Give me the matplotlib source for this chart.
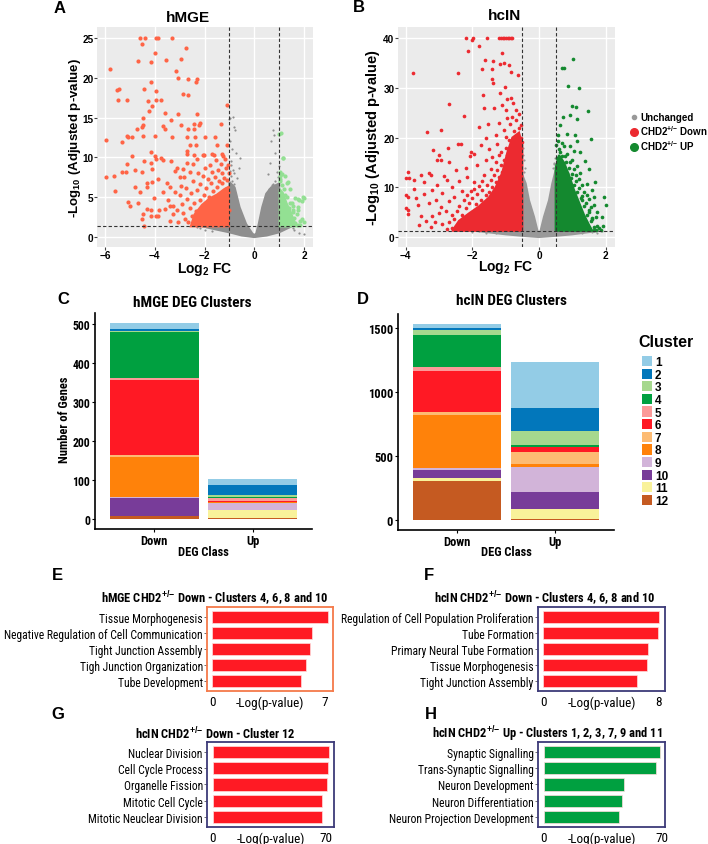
import numpy as np
import matplotlib
matplotlib.use('Agg')
import matplotlib.pyplot as plt
from matplotlib import font_manager
from matplotlib.patches import Patch
from matplotlib.lines import Line2D

SANS = 'Liberation Sans'
names = {f.name for f in font_manager.fontManager.ttflist}
NARROW = SANS
for cand in ['Liberation Sans Narrow', 'Arial Narrow', 'Roboto Condensed', 'Archivo Narrow', 'PT Sans Narrow']:
    if cand in names:
        NARROW = cand
        break

plt.rcParams['font.family'] = [SANS, 'DejaVu Sans']
plt.rcParams['mathtext.fontset'] = 'custom'
plt.rcParams['mathtext.bf'] = SANS + ':bold'
plt.rcParams['mathtext.rm'] = SANS
plt.rcParams['mathtext.default'] = 'bf'

# ---------------- volcano data ----------------
# hMGE: dense clouds as outlines, sparse genes as points
mge_gray_cloud = [(-1.0, 6.9), (-0.79, 6.2), (-0.59, 3.7), (-0.33, 1.6), (-0.08, 0.4), (0.0, 0.2),
                  (0.08, 0.4), (0.18, 1.6), (0.32, 3.7), (0.48, 5.4), (0.68, 6.2), (1.0, 6.7),
                  (1.0, 1.3), (1.5, 1.3), (1.0, 0.55), (0.5, 0.15), (0.0, -0.05), (-0.5, 0.15),
                  (-1.0, 0.55), (-1.6, 0.95), (-2.1, 1.3), (-1.0, 1.3)]
mge_gray_pts = [(-0.98, 15.0), (-0.86, 15.1), (-1.0, 14.8), (-0.81, 13.8), (-0.79, 13.4), (-0.98, 12.0),
                (-0.9, 11.0), (-0.72, 10.5), (-0.59, 9.9), (-0.95, 9.5), (-0.6, 8.6), (-0.85, 8.4),
                (-0.8, 8.0), (-0.7, 7.4), (-0.95, 7.6), (-0.88, 7.0), (-0.82, 6.6), (-0.98, 8.3),
                (-0.92, 9.0), (0.75, 13.4), (0.8, 12.8), (0.68, 12.0), (0.62, 9.3), (0.55, 7.9),
                (0.75, 6.6), (0.85, 7.0), (0.95, 7.5), (0.9, 8.2), (0.98, 8.9), (0.7, 6.5), (0.6, 6.0),
                (0.82, 10.5), (1.6, 0.8), (1.8, 0.5), (1.99, 0.3), (1.55, 1.1), (-2.2, 1.1), (-2.0, 0.9),
                (-1.8, 1.2), (-1.7, 0.7), (-2.3, 1.2)]
mge_down_cloud = [(-1.02, 1.3), (-1.02, 6.3), (-1.2, 6.0), (-1.5, 5.3), (-1.8, 4.8), (-2.1, 4.0),
                  (-2.4, 2.8), (-2.55, 1.3)]
mge_down_pts = [(-4.59, 25), (-4.39, 25), (-3.95, 25), (-3.86, 25), (-3.32, 25), (-4.53, 24.2), (-2.75, 23.7),
                (-3.97, 23.1), (-2.95, 22.4), (-3.56, 22.2), (-4.66, 22.1), (-4.13, 22.0), (-5.81, 21.1),
                (-3.15, 20.9), (-3.08, 20.0), (-2.68, 19.8), (-2.31, 19.8), (-4.16, 19.5), (-2.36, 19.5),
                (-5.53, 18.5), (-5.45, 18.6), (-4.43, 18.6), (-3.93, 18.3), (-2.85, 18.0), (-2.68, 17.9),
                (-5.46, 17.2), (-5.13, 17.2), (-4.29, 17.1), (-3.95, 17.2), (-3.75, 17.2), (-1.11, 16.6),
                (-4.09, 16.4), (-4.23, 15.8), (-3.59, 15.6), (-3.08, 15.5), (-2.29, 15.4), (-4.49, 14.9),
                (-3.36, 14.7), (-2.44, 14.2), (-2.22, 14.1), (-2.18, 14.3), (-1.34, 14.2), (-4.49, 14.0),
                (-4.53, 13.8), (-3.66, 13.9), (-3.59, 13.6), (-4.73, 13.5), (-2.95, 14.0), (-2.68, 13.5),
                (-2.44, 13.5), (-5.96, 12.2), (-5.33, 11.9), (-5.13, 12.7), (-5.06, 12.6), (-4.93, 12.6),
                (-4.46, 12.7), (-3.99, 12.7), (-3.32, 12.5), (-2.72, 12.6), (-2.37, 12.6), (-1.96, 12.6),
                (-1.58, 12.5), (-1.51, 11.6), (-1.11, 11.6), (-2.57, 11.6), (-2.33, 11.6), (-4.90, 10.2),
                (-4.17, 10.6), (-3.99, 10.2), (-3.75, 9.9), (-2.72, 10.8), (-2.69, 10.4), (-2.41, 10.3),
                (-2.05, 10.3), (-2.01, 10.3), (-1.60, 10.3), (-1.30, 10.4), (-5.13, 9.2), (-5.16, 8.1),
                (-4.43, 9.5), (-4.17, 9.3), (-3.95, 9.8), (-3.66, 9.6), (-3.35, 9.5), (-5.33, 8.1),
                (-4.79, 8.4), (-4.53, 8.1), (-4.09, 8.5), (-5.96, 7.5), (-5.64, 7.6), (-4.33, 6.8),
                (-4.09, 6.9), (-3.86, 7.3), (-3.52, 6.8), (-3.19, 8.3), (-3.12, 8.7), (-2.88, 8.5),
                (-2.72, 9.3), (-2.45, 9.1), (-2.99, 7.5), (-2.81, 7.5), (-4.79, 6.3), (-4.59, 5.6),
                (-4.33, 6.2), (-4.03, 4.9), (-3.66, 5.6), (-3.39, 6.3), (-5.60, 5.8), (-5.06, 4.4),
                (-4.99, 3.8), (-4.66, 4.2), (-4.33, 3.5), (-4.13, 3.4), (-3.93, 2.6), (-3.82, 3.4),
                (-3.48, 4.6), (-3.28, 3.9), (-4.46, 2.8), (-4.53, 2.2), (-4.43, 1.4), (-4.13, 2.6),
                (-3.86, 2.6), (-3.59, 3.5), (-3.39, 3.8), (-3.26, 2.9),
                (-3.0, 5.2), (-2.9, 4.1), (-2.85, 3.0), (-2.8, 2.2), (-2.75, 6.1), (-2.7, 4.7), (-2.65, 1.8),
                (-2.6, 3.6), (-2.55, 5.5), (-2.5, 2.6), (-2.45, 7.0), (-2.42, 4.2), (-2.38, 1.6), (-2.35, 3.2),
                (-2.3, 5.9), (-2.28, 8.0), (-2.25, 2.3), (-2.2, 4.6), (-2.18, 6.6), (-2.15, 3.5), (-2.1, 1.9),
                (-2.05, 7.6), (-2.02, 5.2), (-2.0, 8.6), (-1.98, 2.7), (-1.95, 4.3), (-1.92, 6.1), (-1.88, 3.4),
                (-1.85, 7.2), (-1.8, 5.0), (-1.78, 9.0), (-1.75, 2.1), (-1.72, 6.7), (-1.7, 4.0), (-1.68, 8.2),
                (-1.65, 5.7), (-1.6, 3.1), (-1.58, 7.5), (-1.55, 9.6), (-1.5, 6.3), (-1.48, 4.5), (-1.45, 8.4),
                (-1.42, 2.5), (-1.4, 7.0), (-1.38, 5.3), (-1.35, 9.2), (-1.32, 3.7), (-1.3, 6.8), (-1.28, 8.0),
                (-1.25, 4.9), (-1.22, 7.4), (-1.2, 2.9), (-1.18, 9.8), (-1.15, 6.0), (-1.12, 8.6), (-1.1, 4.2),
                (-1.08, 7.1), (-1.05, 5.6), (-1.03, 8.0), (-1.02, 3.3), (-1.25, 10.2), (-1.05, 9.0),
                (-1.7, 10.4), (-3.1, 3.3), (-3.05, 1.8), (-2.95, 6.4), (-3.2, 5.6), (-3.4, 2.0), (-2.6, 8.1),
                (-2.3, 9.8)]
mge_up_cloud = [(1.02, 1.3), (1.02, 6.0), (1.15, 5.5), (1.3, 4.2), (1.45, 3.2), (1.6, 2.0), (1.7, 1.3)]
mge_up_pts = [(1.14, 9.9), (1.0, 12.9), (1.07, 13.0), (1.03, 7.0), (1.23, 7.7), (1.32, 6.8), (1.43, 6.0),
              (1.63, 4.9), (1.76, 4.7), (1.90, 4.5), (1.99, 4.9), (1.76, 3.7), (1.56, 3.1), (1.83, 2.0),
              (1.43, 4.3), (1.23, 5.2), (1.15, 9.9), (1.35, 6.9), (1.95, 5.0), (1.8, 4.6), (1.75, 3.3),
              (1.55, 3.9), (1.9, 2.2), (1.05, 7.2), (1.1, 6.5), (1.2, 6.0), (1.15, 4.8), (1.3, 5.0),
              (1.4, 3.6), (1.5, 4.2), (1.45, 2.6), (1.6, 2.4), (1.65, 1.7), (1.75, 1.5), (1.35, 1.6),
              (1.25, 3.0), (1.55, 3.3), (1.05, 8.2), (1.02, 7.7), (1.12, 7.9), (1.3, 2.2), (1.7, 2.8),
              (1.85, 1.5), (2.0, 1.8)]

# hcIN
cin_gray_cloud = [(-0.5, 12.5), (-0.4, 10.8), (-0.3, 7.4), (-0.15, 4.1), (-0.05, 1.4), (0.0, 0.5),
                  (0.05, 1.4), (0.15, 4.1), (0.30, 7.4), (0.40, 10.8), (0.5, 13.5), (0.5, 1.3),
                  (1.8, 1.3), (1.0, 0.6), (0.5, 0.3), (0.0, 0.05), (-0.5, 0.3), (-1.0, 0.6),
                  (-1.9, 1.3), (-0.5, 1.3)]
cin_gray_pts = [(-0.48, 18.0), (-0.45, 15.5), (-0.42, 14.0), (-0.46, 13.2), (-0.47, 16.6), (0.45, 15.0),
                (0.42, 14.0), (0.47, 16.0), (0.44, 14.7), (-1.8, 1.2), (-1.6, 0.9), (1.6, 1.0),
                (1.9, 1.2), (1.75, 0.8), (-2.0, 1.1), (-1.3, 0.8), (1.3, 0.9)]
cin_down_cloud = [(-0.5, 1.3), (-0.5, 18.5), (-0.6, 21.0), (-0.8, 20.0), (-0.95, 17.0), (-1.1, 13.0),
                  (-1.3, 10.0), (-1.5, 8.0), (-1.8, 6.2), (-2.1, 4.8), (-2.4, 3.3), (-2.6, 1.3)]
cin_down_pts = [(-2.19, 39.9), (-2.02, 39.6), (-1.99, 39.9), (-1.55, 39.9), (-1.19, 40), (-1.14, 40),
                (-1.09, 40), (-1.04, 40), (-0.99, 40), (-0.94, 40), (-0.89, 40), (-0.84, 40), (-0.80, 40),
                (-2.14, 37.4), (-1.79, 38.3), (-3.79, 32.9), (-2.44, 33.0), (-1.63, 35.5), (-1.39, 35.4),
                (-1.71, 33.7), (-1.42, 33.7), (-1.17, 34.7), (-1.10, 37.0), (-1.05, 35.0), (-0.9, 34.5),
                (-0.62, 32.6), (-0.85, 33.1), (-1.41, 31.7), (-1.39, 31.0), (-1.02, 30.1), (-1.67, 28.5),
                (-1.17, 29.0), (-0.95, 27.8), (-0.85, 28.0), (-0.79, 27.0), (-1.64, 26.0), (-1.35, 26.0),
                (-2.69, 26.7), (-1.1, 26.5), (-1.0, 25.5), (-2.24, 24.3), (-0.95, 24.0), (-0.8, 24.2),
                (-0.7, 23.5), (-1.2, 23.0), (-0.88, 22.8), (-1.54, 22.8), (-1.79, 22.2), (-2.93, 21.6),
                (-3.37, 21.2), (-1.05, 21.5), (-0.75, 21.3), (-1.3, 20.5), (-0.6, 22.0), (-1.0, 20.2),
                (-1.6, 20.0), (-2.34, 18.7), (-2.44, 18.7), (-2.74, 18.0), (-3.19, 17.6), (-2.04, 17.1),
                (-1.94, 16.8), (-2.07, 16.3), (-2.99, 16.5), (-3.06, 15.6), (-2.94, 15.6), (-2.69, 15.2),
                (-1.75, 18.5), (-1.5, 17.8), (-1.25, 18.8), (-1.2, 16.5), (-1.6, 15.5), (-1.85, 14.5),
                (-2.2, 14.0), (-2.5, 13.5), (-3.93, 13.1), (-3.99, 11.8), (-3.89, 11.8), (-3.54, 12.4),
                (-3.29, 12.9), (-3.24, 12.4), (-3.44, 11.1), (-3.74, 11.4), (-3.74, 9.6), (-3.69, 7.8),
                (-3.99, 8.4), (-3.94, 8.1), (-3.99, 5.8), (-3.94, 5.5), (-3.94, 4.7), (-3.64, 6.4),
                (-3.54, 4.2), (-3.39, 3.3), (-3.21, 4.3), (-3.11, 3.1), (-3.2, 9.5), (-3.05, 10.5),
                (-2.9, 8.8), (-2.75, 11.5), (-2.6, 10.0), (-2.85, 12.3), (-3.1, 7.5), (-3.3, 6.8),
                (-2.95, 6.0), (-2.7, 7.3), (-3.45, 8.6), (-3.6, 2.5), (-3.25, 2.0), (-2.9, 2.6),
                (-3.0, 4.8), (-2.8, 5.2), (-2.55, 8.0), (-2.4, 11.2), (-2.3, 9.3), (-2.15, 12.0),
                (-1.95, 11.0), (-2.05, 9.2), (-2.25, 7.4), (-2.4, 6.3), (-2.6, 4.5), (-2.7, 3.0),
                (-2.5, 2.2), (-2.45, 5.3), (-2.3, 4.4), (-2.2, 5.9), (-2.1, 6.9), (-2.0, 7.8), (-1.9, 6.6),
                (-1.85, 8.6), (-1.75, 7.4), (-1.7, 9.5), (-1.6, 8.4), (-1.55, 10.5), (-1.5, 9.1),
                (-1.45, 11.5), (-1.4, 10.0), (-1.35, 12.4), (-1.3, 11.0), (-1.25, 13.5), (-1.2, 12.0),
                (-1.15, 14.5), (-1.1, 13.2), (-1.05, 15.5), (-1.0, 14.2), (-0.95, 16.5), (-0.9, 15.0),
                (-0.85, 18.0), (-0.8, 16.8), (-0.75, 19.0), (-0.7, 17.8), (-0.65, 20.5), (-0.6, 18.9),
                (-0.55, 20.0), (-0.52, 19.2), (-1.9, 4.9), (-1.8, 10.2), (-1.65, 12.5), (-1.45, 13.8),
                (-1.3, 15.2), (-1.15, 17.2), (-1.0, 18.0), (-0.9, 19.5), (-0.7, 15.0), (-2.6, 1.8),
                (-2.75, 1.6), (-2.35, 2.0), (-2.55, 3.6), (-1.7, 11.3), (-2.15, 8.4), (-1.95, 9.7),
                (-1.4, 16.2), (-0.6, 24.8), (-0.55, 22.5), (-0.68, 25.5)]
cin_up_cloud = [(0.5, 1.3), (0.5, 14.0), (0.6, 16.5), (0.75, 15.0), (0.9, 12.5), (1.05, 9.5), (1.2, 7.0),
                (1.35, 4.5), (1.5, 2.5), (1.6, 1.3)]
cin_up_pts = [(1.03, 35.7), (0.68, 33.9), (0.75, 33.9), (0.88, 30.3), (1.19, 30.0), (0.98, 26.3), (1.12, 26.1),
              (1.46, 25.3), (0.93, 24.5), (0.71, 24.1), (1.14, 23.7), (0.63, 22.5), (0.83, 20.7), (1.09, 20.5),
              (1.14, 19.4), (1.56, 19.7), (0.58, 19.4), (0.75, 18.4), (0.93, 18.4), (1.05, 17.4), (1.24, 17.1),
              (1.39, 15.4), (1.49, 13.7), (1.69, 11.0), (1.44, 10.7), (1.59, 9.4), (1.94, 8.0), (2.0, 6.4),
              (1.64, 6.4), (1.59, 3.7), (1.74, 2.3), (1.89, 4.0), (1.91, 2.3), (1.39, 3.0), (1.44, 1.7),
              (1.24, 2.3), (1.74, 5.0), (1.49, 5.4), (1.29, 7.4), (1.34, 9.0), (1.19, 11.7), (1.04, 13.7),
              (0.94, 15.1), (0.79, 16.4), (0.64, 17.1), (1.24, 13.0), (1.14, 14.4), (1.49, 7.7), (1.64, 8.0),
              (0.55, 16.0), (0.6, 17.8), (0.65, 15.2), (0.7, 16.3), (0.75, 14.2), (0.8, 15.2), (0.85, 13.0),
              (0.9, 14.0), (0.95, 11.8), (1.0, 12.6), (1.05, 10.4), (1.1, 11.2), (1.15, 9.0), (1.2, 9.8),
              (1.25, 7.8), (1.3, 8.2), (1.35, 6.2), (1.4, 6.8), (1.45, 4.4), (1.5, 5.0), (1.55, 3.2),
              (1.6, 3.8), (1.65, 2.0), (1.7, 1.5), (1.8, 1.8), (1.85, 1.4), (0.52, 18.5), (0.58, 20.5),
              (0.7, 19.0), (0.85, 16.8), (1.0, 15.5), (1.12, 12.5), (1.3, 10.5), (1.45, 8.5), (1.55, 6.0),
              (1.7, 4.0), (1.65, 1.4)]

# ---------------- cluster bars ----------------
clusters = ['1', '2', '3', '4', '5', '6', '7', '8', '9', '10', '11', '12']
cluster_colors = ['#93CCE6', '#0277BB', '#A6D88E', '#00A040', '#FC9A99', '#FF1924',
                  '#FDBB73', '#FF820A', '#D2B4D9', '#783C99', '#F9F29A', '#C55A21']
deg_class = ['Down', 'Up']
hmge_down = [14, 5, 4, 118, 3, 193, 4, 103, 3, 46, 1, 7]
hmge_up = [15, 26, 6, 1, 8, 2, 2, 2, 17, 0, 20, 4]
hcin_down = [29, 21, 36, 247, 34, 317, 26, 418, 10, 68, 23, 304]
hcin_up = [361, 182, 104, 16, 5, 36, 94, 23, 192, 133, 80, 10]

# ---------------- GO terms ----------------
e_terms = ['Tissue Morphogenesis', 'Negative Regulation of Cell Communication', 'Tight Junction Assembly',
           'Tigh Junction Organization', 'Tube Development']
e_vals = [7.17, 6.17, 6.05, 5.80, 5.53]
f_terms = ['Regulation of Cell Population Proliferation', 'Tube Formation', 'Primary Neural Tube Formation',
           'Tissue Morphogenesis', 'Tight Junction Assembly']
f_vals = [8.05, 7.96, 7.31, 7.22, 6.50]
g_terms = ['Nuclear Division', 'Cell Cycle Process', 'Organelle Fission', 'Mitotic Cell Cycle',
           'Mitotic Neuclear Division']
g_vals = [72.0, 71.2, 70.6, 67.5, 67.5]
h_terms = ['Synaptic Signalling', 'Trans-Synaptic Signalling', 'Neuron Development', 'Neuron Differentiation',
           'Neuron Projection Development']
h_vals = [69.0, 66.6, 47.6, 46.6, 44.6]

W, H = 708, 845
fig = plt.figure(figsize=(W / 100, H / 100), dpi=100)


def rect(l, t, r, b):
    return [l / W, 1 - b / H, (r - l) / W, (b - t) / H]


def ftext(x, y, s, **kw):
    fig.text(x / W, 1 - y / H, s, ha=kw.pop('ha', 'center'), va=kw.pop('va', 'center'), **kw)


def volcano(pos, gray_cloud, gray_pts, down_cloud, down_pts, up_cloud, up_pts, gray, red, green, size,
            xlim, ylim, xticks, yticks, vx):
    ax = fig.add_axes(rect(*pos))
    ax.set_facecolor('#EBEBEB')
    ax.grid(color='white', lw=1.0)
    ax.set_axisbelow(True)
    for s in ax.spines.values():
        s.set_visible(False)
    for cloud, pts, col, sz in [(gray_cloud, gray_pts, gray, 2.5), (down_cloud, down_pts, red, size),
                                (up_cloud, up_pts, green, size)]:
        cx, cy = zip(*cloud)
        ax.fill(cx, cy, color=col, lw=1.5, ec=col, zorder=2)
        px, py = zip(*pts)
        ax.scatter(px, py, s=sz, color=col, lw=0, zorder=2)
    for v in vx:
        ax.axvline(v, color='#333333', lw=0.8, ls=(0, (3, 2)), zorder=3)
    ax.axhline(1.3, color='#333333', lw=0.8, ls=(0, (3, 2)), zorder=3)
    ax.set_xlim(xlim)
    ax.set_ylim(ylim)
    ax.set_xticks(xticks)
    ax.set_yticks(yticks)
    ax.tick_params(length=2, width=0.8, color='#444444', labelsize=7.2, pad=0.5)
    for lbl in ax.get_xticklabels() + ax.get_yticklabels():
        lbl.set_fontweight('bold')
    return ax


volcano((97, 28, 313, 248), mge_gray_cloud, mge_gray_pts, mge_down_cloud, mge_down_pts,
        mge_up_cloud, mge_up_pts, '#8F8F8F', '#FF6446', '#93E093', 9, (-6.32, 2.36), (-1.3, 26.4),
        [-6, -4, -2, 0, 2], [0, 5, 10, 15, 20, 25], [-1, 1])
volcano((398, 28, 615, 248), cin_gray_cloud, cin_gray_pts, cin_down_cloud, cin_down_pts,
        cin_up_cloud, cin_up_pts, '#999999', '#EC2A30', '#14892F', 7, (-4.23, 2.28), (-1.95, 42.2),
        [-4, -2, 0, 2], [0, 10, 20, 30, 40], [-0.5, 0.5])

ftext(188, 18, 'hMGE', fontsize=11, fontweight='bold')
ftext(505, 16, 'hcIN', fontsize=11, fontweight='bold')
ftext(75, 138, r'-Log$_{10}$ (Adjusted p-value)', rotation=90, fontsize=9.5, fontweight='bold')
ftext(373, 138, r'-Log$_{10}$ (Adjusted p-value)', rotation=90, fontsize=10.5, fontweight='bold')
ftext(205, 270, r'Log$_2$ FC', fontsize=10, fontweight='bold')
ftext(506, 268, r'Log$_2$ FC', fontsize=10, fontweight='bold')

vol_handles = [Line2D([], [], marker='o', ls='', color='#999999', markersize=3),
               Line2D([], [], marker='o', ls='', color='#EC2A30', markersize=5.5),
               Line2D([], [], marker='o', ls='', color='#14892F', markersize=5.5)]
fig.legend(vol_handles, ['Unchanged', r'CHD2$^{+/{-}}$ Down', r'CHD2$^{+/{-}}$ UP'],
           loc='upper left', bbox_to_anchor=(630 / W, 1 - 113 / H), frameon=False,
           prop={'weight': 'bold', 'size': 7}, handlelength=0.8, handletextpad=0.25,
           labelspacing=0.12, borderpad=0, borderaxespad=0)


def stacked(pos, down, up, ylim, yticks, tick_size, title, title_xy, ylabel):
    ax = fig.add_axes(rect(*pos))
    x = np.arange(len(deg_class))
    bottom = np.zeros(2)
    for i in range(len(clusters) - 1, -1, -1):
        h = np.array([down[i], up[i]], dtype=float)
        ax.bar(x, h, width=0.9, bottom=bottom, color=cluster_colors[i], lw=0)
        bottom += h
    ax.set_xlim(-0.6, 1.6)
    ax.set_ylim(ylim)
    ax.set_yticks(yticks)
    ax.set_xticks(x)
    ax.set_xticklabels(deg_class)
    for s in ['top', 'right']:
        ax.spines[s].set_visible(False)
    for s in ['left', 'bottom']:
        ax.spines[s].set_linewidth(1.2)
    ax.tick_params(length=2.5, width=0.8, pad=1)
    for lbl in ax.get_yticklabels():
        lbl.set_fontweight('bold')
        lbl.set_family(NARROW)
        lbl.set_fontsize(tick_size)
    for lbl in ax.get_xticklabels():
        lbl.set_fontweight('bold')
        lbl.set_family(NARROW)
        lbl.set_fontsize(9)
    ftext(title_xy[0], title_xy[1], title, fontsize=11, fontweight='bold', family=NARROW)
    ftext((pos[0] + pos[2]) / 2, 553, 'DEG Class', fontsize=9, fontweight='bold', family=NARROW)
    if ylabel:
        ftext(65, 420, ylabel, rotation=90, fontsize=9, fontweight='bold', family=NARROW)
    return ax


stacked((95, 314, 312, 530), hmge_down, hmge_up, (-25, 527), [0, 100, 200, 300, 400, 500], 8.5,
        'hMGE DEG Clusters', (192, 303), 'Number of Genes')
stacked((398, 315, 614, 531), hcin_down, hcin_up, (-77, 1611), [0, 500, 1000, 1500], 9,
        'hcIN DEG Clusters', (511, 301), None)

ftext(638, 343, 'Cluster', ha='left', fontsize=11.5, fontweight='bold')
cl_handles = [Patch(facecolor=c, edgecolor='none') for c in cluster_colors]
fig.legend(cl_handles, clusters, loc='upper left', bbox_to_anchor=(642 / W, 1 - 357 / H),
           frameon=False, prop={'weight': 'bold', 'size': 8.5}, handlelength=0.85, handleheight=0.95,
           handletextpad=0.25, labelspacing=0.04, borderpad=0, borderaxespad=0)


def go_bar(pos, terms, vals, xlim, tick_max, color, edge, title, title_xy):
    ax = fig.add_axes(rect(*pos))
    y = np.arange(len(terms))
    ax.barh(y, vals, height=0.75, color=color, edgecolor='#FFDDDD', lw=0.5)
    ax.set_xlim(xlim)
    ax.set_ylim(4.62, -0.62)
    ax.set_yticks(y)
    ax.set_yticklabels(terms, fontsize=8.4, family=NARROW)
    ax.set_xticks([0, tick_max])
    ax.set_xticklabels(['0', str(tick_max)], fontsize=9.5, family=NARROW)
    ax.tick_params(axis='x', length=0, pad=3)
    ax.tick_params(axis='y', length=2, width=0.6, color='#555555', pad=1)
    for s in ax.spines.values():
        s.set_color(edge)
        s.set_linewidth(1.3)
    ax.annotate('-Log(p-value)', xy=(0.5, 0), xycoords='axes fraction', xytext=(0, -3),
                textcoords='offset points', ha='center', va='top', fontsize=9.5, family=NARROW)
    ftext(title_xy[0], title_xy[1], title, fontsize=9, fontweight='bold', family=NARROW)


navy = '#3D3A78'
go_bar((207, 608, 333, 692), e_terms, e_vals, (-0.33, 7.5), 7, '#FF1A24', '#F47A4A',
       r'hMGE CHD2$^{+/{-}}$ Down - Clusters 4, 6, 8 and 10', (215, 599))
go_bar((538, 608, 665, 692), f_terms, f_vals, (-0.37, 8.46), 8, '#FF1A24', navy,
       r'hcIN CHD2$^{+/{-}}$ Down - Clusters 4, 6, 8 and 10', (545, 599))
go_bar((207, 743, 334, 828), g_terms, g_vals, (-3.4, 75.1), 70, '#FF1A24', navy,
       r'hcIN CHD2$^{+/{-}}$ Down - Cluster 12', (215, 734))
go_bar((538, 743, 665, 828), h_terms, h_vals, (-3.4, 72.0), 70, '#00A040', navy,
       r'hcIN CHD2$^{+/{-}}$ Up - Clusters 1, 2, 3, 7, 9 and 11', (547, 734))

for lab, x, y in [('A', 59.5, 8.5), ('B', 358.5, 8), ('C', 63, 299), ('D', 363, 300),
                  ('E', 57.5, 576), ('F', 429, 576), ('G', 57.5, 714.5), ('H', 431, 714.5)]:
    ftext(x, y, lab, fontsize=12, fontweight='bold')

fig.savefig('out.png', dpi=100)
